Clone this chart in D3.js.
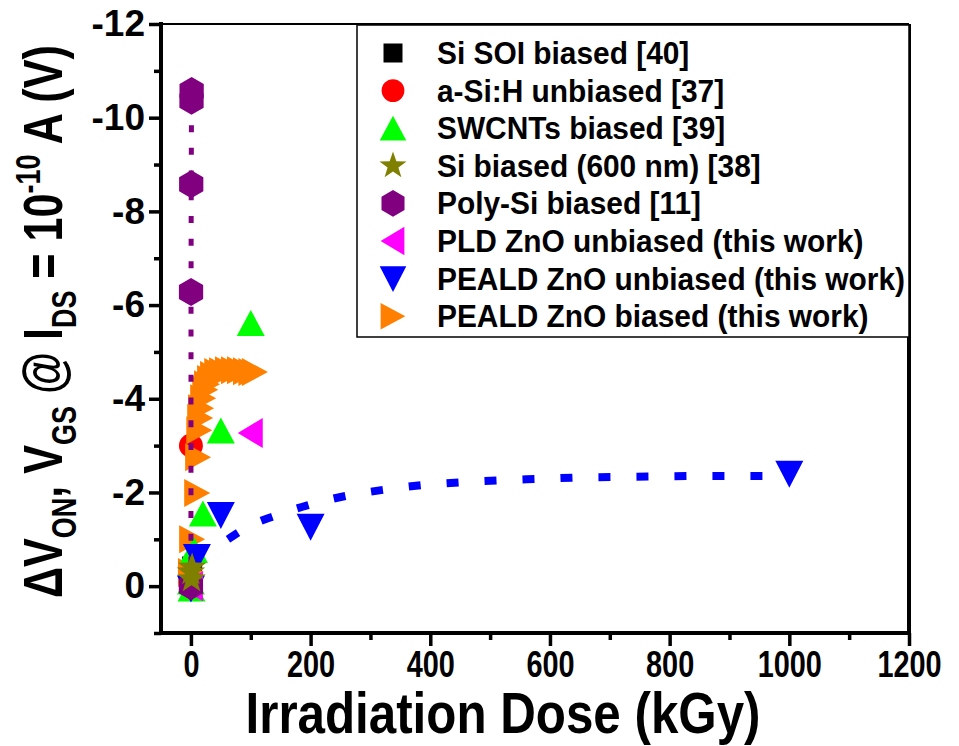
<!DOCTYPE html>
<html lang="en">
<head>
<meta charset="UTF-8">
<title>threshold shift vs dose</title>
<style>
  body { margin: 0; background: #fff; }
  svg text { font-family: "Liberation Sans", Arial, sans-serif; font-weight: bold; fill: #000; }
  .Axis path { display: none; }
  .Axis line { stroke: #000; stroke-width: 3.5; }
  .Axis text { font-size: 37px; }
</style>
<script src="https://cdnjs.cloudflare.com/ajax/libs/d3/7.8.5/d3.min.js"></script>
</head>
<body>
<script>
// ---- data (dose in kGy, shift in V) ----
const siSoiDose = [0, 1, 2],            siSoiVal = [0, -0.2, -0.42];
const aSiDose   = [0, 0],               aSiVal   = [-0.1, -3.0];
const cntDose   = [0, 1, 5, 20, 50, 100],
      cntVal    = [-0.1, 0.05, -0.77, -1.55, -3.32, -5.62];
const si600Dose = [0, 1, 2],            si600Val = [-0.3, -0.15, -0.4];
const polyDose  = [0, 0.2, 0.5, 1, 1.2], polyVal = [0, -6.28, -8.58, -10.36, -10.57];
const pldDose   = [0, 100],             pldVal   = [0, -3.27];
const pealdUDose = [0, 10, 50, 200, 1000],
      pealdUVal  = [0.05, -0.62, -1.52, -1.27, -2.4];
const pealdBDose = [0, 2, 10.5, 12, 14, 15.5, 17, 20.5, 24, 27, 32, 37, 44, 52, 62, 72, 82, 92, 101, 107],
      pealdBVal  = [-0.3, -1.0, -1.99, -2.75, -3.33, -3.59, -3.8, -4.01, -4.19, -4.31, -4.42, -4.51, -4.57, -4.59, -4.61, -4.61, -4.61, -4.59, -4.57, -4.57];
// dotted guide through the unbiased PEALD points
const fitDose = [62, 100, 140, 196, 260, 324, 390, 454, 518, 583, 647, 710, 776, 840, 905, 969],
      fitVal  = [-1.0, -1.3, -1.5, -1.73, -1.93, -2.06, -2.16, -2.22, -2.26, -2.29, -2.32, -2.33, -2.34, -2.35, -2.35, -2.35];

const xTicks = [0, 200, 400, 600, 800, 1000, 1200];
const yTicks = [-12, -10, -8, -6, -4, -2, 0];

const names = ["Si SOI biased [40]", "a-Si:H unbiased [37]", "SWCNTs biased [39]",
  "Si biased (600 nm) [38]", "Poly-Si biased [11]", "PLD ZnO unbiased (this work)",
  "PEALD ZnO unbiased (this work)", "PEALD ZnO biased (this work)"];
const colors = ["#000000", "#ff0000", "#00ff00", "#808000", "#800080", "#ff00ff", "#0000ff", "#ff8000"];
const shapes = ["square", "circle", "up", "star", "hex", "left", "down", "right"];
const doses = [siSoiDose, aSiDose, cntDose, si600Dose, polyDose, pldDose, pealdUDose, pealdBDose];
const vals  = [siSoiVal, aSiVal, cntVal, si600Val, polyVal, pldVal, pealdUVal, pealdBVal];

const w = 959, h = 746;
const svg = d3.select("body").append("svg").attr("width", w).attr("height", h);

const x = d3.scaleLinear().domain([-50, 1200]).range([161, 909]);
const y = d3.scaleLinear().domain([1, -12]).range([633, 24]);

function star(R, r) {
  let p = [];
  for (let i = 0; i < 10; i++) {
    const a = -Math.PI / 2 + i * Math.PI / 5, rr = i % 2 ? r : R;
    p.push([rr * Math.cos(a), rr * Math.sin(a)]);
  }
  return "M" + p.join("L") + "Z";
}
function hex(R) {
  let p = [];
  for (let i = 0; i < 6; i++) {
    const a = -Math.PI / 2 + i * Math.PI / 3;
    p.push([R * Math.cos(a), R * Math.sin(a)]);
  }
  return "M" + p.join("L") + "Z";
}
const shapePath = {
  square: "M-10,-10h20v20h-20Z",
  circle: d3.symbol(d3.symbolCircle, Math.PI * 12 * 12)(),
  up: "M0,-13L14,13L-14,13Z",
  down: "M-14,-13L14,-13L0,14Z",
  left: "M-13,0L12,-15L12,15Z",
  right: "M-13,-14L13,0L-13,14Z",
  hex: hex(14),
  star: star(15, 6)
};

// axes
const yAxis = d3.axisLeft(y).tickValues(yTicks).tickSize(12).tickSizeOuter(0).tickPadding(4).tickFormat(d => String(d));
svg.append("g").attr("class", "Axis").attr("transform", "translate(161,0)").call(yAxis);
svg.append("g").attr("class", "Axis").attr("transform", "translate(161,0)")
  .call(d3.axisLeft(y).tickValues([-11, -9, -7, -5, -3, -1, 1]).tickSize(7).tickSizeOuter(0).tickFormat(""));

const xAxis = d3.axisBottom(x).tickValues(xTicks).tickSize(13).tickSizeOuter(0).tickPadding(5).tickFormat(d => String(d));
const gx = svg.append("g").attr("class", "Axis").attr("transform", "translate(0,633)").call(xAxis);
gx.selectAll("text").attr("transform", "scale(0.78,1)");
svg.append("g").attr("class", "Axis").attr("transform", "translate(0,633)")
  .call(d3.axisBottom(x).tickValues([100, 300, 500, 700, 900, 1100]).tickSize(7).tickSizeOuter(0).tickFormat(""));

// frame
svg.append("line").attr("x1", 161).attr("x2", 909).attr("y1", 24).attr("y2", 24).attr("stroke", "#000").attr("stroke-width", 2);
svg.append("line").attr("x1", 909).attr("x2", 909).attr("y1", 24).attr("y2", 633).attr("stroke", "#000").attr("stroke-width", 4);
svg.append("line").attr("x1", 161).attr("x2", 161).attr("y1", 22).attr("y2", 635).attr("stroke", "#000").attr("stroke-width", 4);
svg.append("line").attr("x1", 159).attr("x2", 911).attr("y1", 633).attr("y2", 633).attr("stroke", "#000").attr("stroke-width", 4);

// dotted guide lines
const line = d3.line().x(d => x(d[0])).y(d => y(d[1]));
const fitLine = d3.line().x(d => x(d[0])).y(d => y(d[1])).curve(d3.curveMonotoneX);

function drawSeries(i) {
  const pts = doses[i].map((d, j) => [d, vals[i][j]]);
  svg.append("g").selectAll("path").data(pts).enter().append("path")
    .attr("d", shapePath[shapes[i]])
    .attr("transform", d => `translate(${x(d[0])},${y(d[1])})`)
    .attr("fill", colors[i]);
}

const order = [0, 1, 7, 2, 6, 5];
order.forEach(drawSeries);

svg.append("path").datum(fitDose.map((d, j) => [d, fitVal[j]]))
  .attr("d", fitLine).attr("fill", "none").attr("stroke", "#0000ff")
  .attr("stroke-width", 8).attr("stroke-dasharray", "12 26");

svg.append("path").datum(polyDose.map((d, j) => [d, polyVal[j]]))
  .attr("d", line).attr("fill", "none").attr("stroke", "#800080")
  .attr("stroke-width", 5).attr("stroke-dasharray", "7 15.7");

drawSeries(4);
drawSeries(3);

// legend
const lg = svg.append("g");
lg.append("rect").attr("x", 357).attr("y", 25).attr("width", 552).attr("height", 312)
  .attr("fill", "#fff").attr("stroke", "#000").attr("stroke-width", 1.5);
const rows = lg.selectAll("g.row").data(names).enter().append("g")
  .attr("class", "row").attr("transform", (d, i) => `translate(0,${53 + i * 37.6})`);
rows.append("path").attr("d", (d, i) => shapePath[shapes[i]])
  .attr("transform", "translate(393,0) scale(0.95)").attr("fill", (d, i) => colors[i]);
const lt = rows.append("text").attr("x", 437).attr("y", 11).style("font-size", "31px").text(d => d);
let longest = 0;
lt.each(function () { longest = Math.max(longest, this.getComputedTextLength()); });
const k = 468 / longest;
lt.each(function () {
  d3.select(this).attr("textLength", this.getComputedTextLength() * k).attr("lengthAdjust", "spacingAndGlyphs");
});

// axis titles
svg.append("text").attr("x", 503).attr("y", 733).attr("text-anchor", "middle")
  .style("font-size", "57px").attr("textLength", 515).attr("lengthAdjust", "spacingAndGlyphs")
  .text("Irradiation Dose (kGy)");

const yt = svg.append("text").style("font-size", "56px");
const pieces = [["ΔV", 0], ["ON", 1], [", V", 0], ["GS", 1], [" @ I", 0], ["DS", 1], [" = 10", 0], ["-10", -1], [" A (V)", 0]];
let cur = 0;
pieces.forEach(p => {
  const off = p[1] === 1 ? 14 : p[1] === -1 ? -22 : 0;
  yt.append("tspan").attr("dy", off - cur).style("font-size", p[1] ? "35px" : "56px").text(p[0]);
  cur = off;
});
const yl = yt.node().getComputedTextLength();
yt.attr("transform", `translate(62,598) rotate(-90) scale(${553 / yl},1)`);
</script>
</body>
</html>
